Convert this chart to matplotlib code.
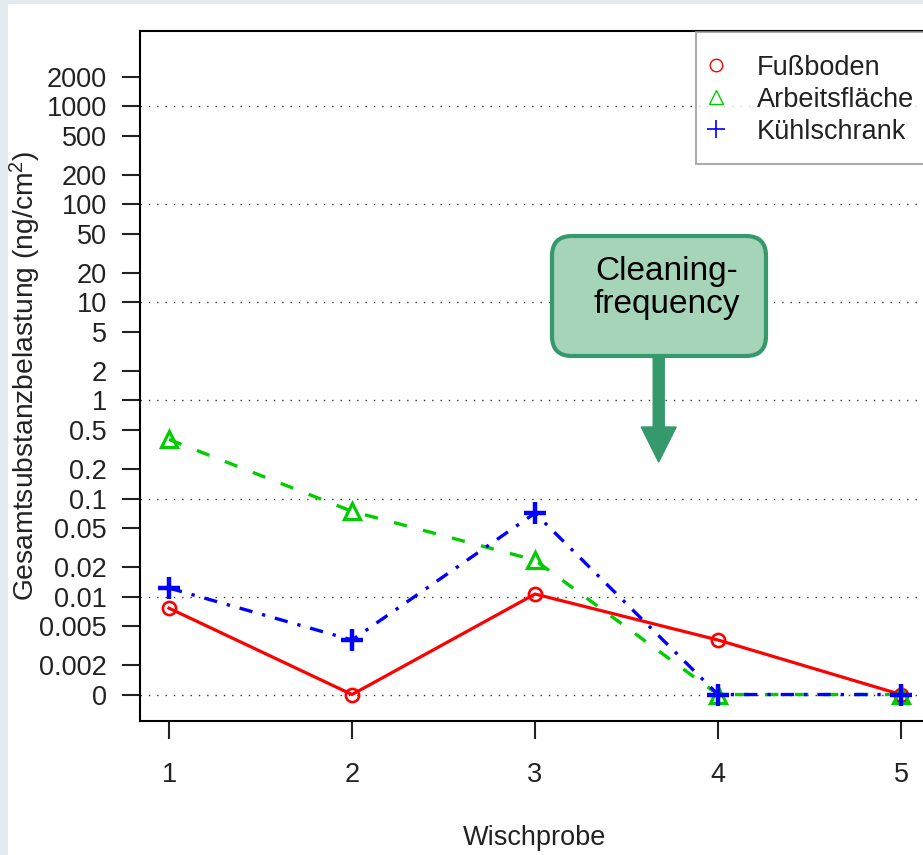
import numpy as np
import matplotlib.pyplot as plt
from matplotlib.lines import Line2D
from matplotlib.legend_handler import HandlerLine2D
from matplotlib.patches import FancyBboxPatch, FancyArrow, Rectangle
from matplotlib.transforms import Affine2D

plt.rcParams["font.family"] = ["Liberation Sans", "DejaVu Sans"]
plt.rcParams["mathtext.default"] = "regular"

# ── data ──────────────────────────────────────────────────────────────────────
wischprobe     = [1, 2, 3, 4, 5]
fussboden      = [0.0076, 0, 0.0106, 0.0036, 0]
arbeitsflaeche = [0.40, 0.074, 0.0235, 0, 0]
kuehlschrank   = [0.0122, 0.0036, 0.071, 0, 0]
series_labels  = ["Fußboden", "Arbeitsfläche", "Kühlschrank"]

y_ticks = [2000, 1000, 500, 200, 100, 50, 20, 10, 5, 2, 1,
           0.5, 0.2, 0.1, 0.05, 0.02, 0.01, 0.005, 0.002, 0]
y_tick_labels = ["2000", "1000", "500", "200", "100", "50", "20", "10", "5",
                 "2", "1", "0.5", "0.2", "0.1", "0.05", "0.02", "0.01",
                 "0.005", "0.002", "0"]
grid_levels = [1000, 100, 10, 1, 0.1, 0.01, 0]

# zero can't sit on a log axis: the "0" row is drawn one decade below 0.01
ZERO_POS = 1e-3


def on_log(vals):
    v = np.asarray(vals, dtype=float)
    return np.where(v == 0, ZERO_POS, v)


class LoweredMarker(HandlerLine2D):
    """Legend symbol nudged down a few px so it sits level with its label."""

    def create_artists(self, legend, orig_handle, xdescent, ydescent,
                       width, height, fontsize, trans):
        trans = trans + Affine2D().translate(0, -3)
        return super().create_artists(legend, orig_handle, xdescent, ydescent,
                                      width, height, fontsize, trans)


# ── figure ────────────────────────────────────────────────────────────────────
W, H = 923, 855
fig = plt.figure(figsize=(W / 100, H / 100), dpi=100)
fig.patch.set_facecolor("#e3eaee")
fig.add_artist(Rectangle((8 / W, 0), 1, 1 - 4 / H, transform=fig.transFigure,
                         facecolor="white", edgecolor="none", zorder=-1))

ax = fig.add_axes([140 / W, 1 - 720.5 / H, 790 / W, 689.5 / H])
ax.set_yscale("log")
ax.set_xlim(0.8414, 5.1586)
ax.set_ylim(10 ** -3.265, 10 ** 3.770)

for g in on_log(grid_levels):
    ax.axhline(g, color="#333333", lw=1.0, dashes=(1, 5), zorder=1)

ax.plot(wischprobe, on_log(fussboden), color="#ff0000", lw=2.3,
        marker="o", ms=9.5, mfc="none", mew=1.9, zorder=3)
ax.plot(wischprobe, on_log(arbeitsflaeche), color="#00cd00", lw=2.4,
        dashes=(4, 5), marker="^", ms=12, mfc="none", mew=2.3, zorder=3)
ax.plot(wischprobe, on_log(kuehlschrank), color="#0000ff", lw=2.4,
        dashes=(4, 3, 1, 3), marker="+", ms=16, mew=3.2, zorder=4)

ax.set_xticks(wischprobe)
ax.set_yticks(on_log(y_ticks))
ax.set_yticklabels(y_tick_labels)
ax.minorticks_off()
ax.tick_params(axis="both", direction="out", length=13, width=1.5,
               labelsize=19.5, color="#222222", labelcolor="#222222")
ax.tick_params(axis="y", pad=11)
ax.tick_params(axis="x", pad=17)
for s in ax.spines.values():
    s.set_linewidth(1.5)

ax.set_xlabel("Wischprobe", fontsize=19.5, color="#222222")
ax.xaxis.set_label_coords(0.5, (720.5 - 838) / 689.5)
ax.xaxis.label.set_va("center")
ax.set_ylabel("Gesamtsubstanzbelastung (ng/cm$^2$)", fontsize=20.3, color="#222222")
ax.yaxis.set_label_coords((25 - 140) / 790, 0.5)
ax.yaxis.label.set_va("center")

# legend shows symbols only, like base-R pch legend
handles = [
    Line2D([], [], ls="none", marker="o", ms=9, mfc="none", mec="#ff0000", mew=1),
    Line2D([], [], ls="none", marker="^", ms=10, mfc="none", mec="#00cd00", mew=1),
    Line2D([], [], ls="none", marker="+", ms=13, mec="#0000ff", mew=1.2),
]
leg = ax.legend(handles, series_labels, loc="upper left",
                bbox_to_anchor=(696 / W, 1 - 32 / H), bbox_transform=fig.transFigure,
                fontsize=19.5, frameon=True, fancybox=False, borderpad=0.65,
                handlelength=0.2, handleheight=1.45, handletextpad=1.4,
                labelspacing=0.0, borderaxespad=0,
                handler_map={Line2D: LoweredMarker()})
leg.get_frame().set_edgecolor("#999999")
leg.get_frame().set_linewidth(1.5)
for t in leg.get_texts():
    t.set_color("#222222")

# ── "Cleaning-frequency" callout ──────────────────────────────────────────────
green_dark = "#35996b"
fig.add_artist(FancyBboxPatch((5.52, 4.99), 2.14, 1.20,
                              boxstyle="round,pad=0,rounding_size=0.2",
                              transform=fig.dpi_scale_trans, facecolor="#a6d4b9",
                              edgecolor=green_dark, lw=3, zorder=5))
fig.add_artist(FancyArrow(6.587, 4.98, 0, -1.05, width=0.11, head_width=0.35,
                          head_length=0.35, length_includes_head=True,
                          transform=fig.dpi_scale_trans, color=green_dark, zorder=5))
fig.text(667 / W, 1 - 288 / H, "Cleaning-\nfrequency", ha="center", va="center",
         fontsize=24, linespacing=1.12, zorder=6)

fig.savefig("out.png", dpi=100, facecolor=fig.get_facecolor())
